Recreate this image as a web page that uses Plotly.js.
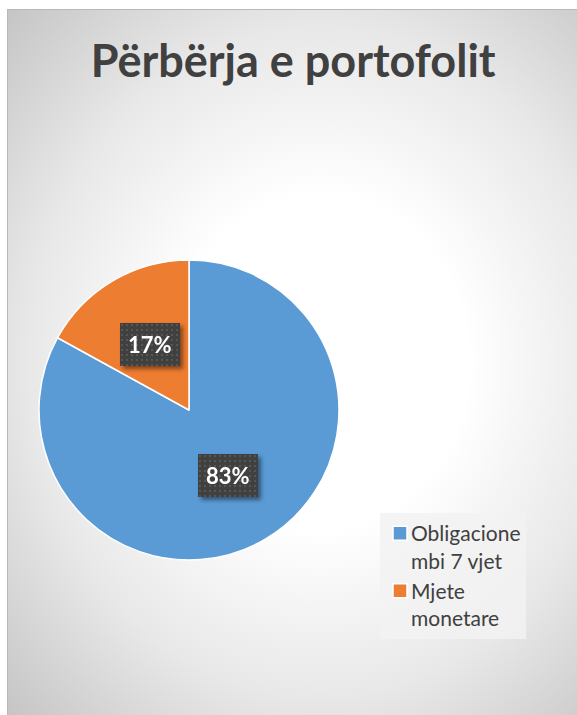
<!DOCTYPE html>
<html>
<head>
<meta charset="utf-8">
<script src="https://cdn.plot.ly/plotly-3.0.1.min.js"></script>
<style>
  html, body { margin: 0; padding: 0; background: #ffffff; width: 577px; height: 715px; overflow: hidden; }
  #bgbox {
    position: absolute; left: 7px; top: 9px; width: 570px; height: 706px;
    box-sizing: border-box;
    border-left: 1px solid #b8b8b8; border-top: 1px solid #b8b8b8;
    background: radial-gradient(ellipse 78% 72% at 55% 50%, #ffffff 0%, #ffffff 33%, #e8e8e8 66%, #c4c4c4 100%);
  }
  #chart { position: absolute; left: 0; top: 0; width: 577px; height: 715px; }
  .annotation { filter: drop-shadow(3px 3px 2px rgba(0,0,0,0.45)); }
</style>
</head>
<body>
<div id="bgbox"></div>
<div id="chart"></div>
<script>
// ---- data ----
var categories = ["Obligacione<br>mbi 7 vjet", "Mjete<br>monetare"];
var values = [83, 17];
var colors = ["#5B9BD5", "#ED7D31"];
var chartTitle = "Përbërja e portofolit";

// ---- layout constants ----
var W = 577, H = 715;
var domX = [39 / W, 339 / W];
var domY = [1 - 560 / H, 1 - 260 / H];
var radiusPx = Math.min((domX[1] - domX[0]) * W, (domY[1] - domY[0]) * H) / 2;
var labelFrac = 0.51;

var total = values.reduce(function (a, b) { return a + b; }, 0);
var cxP = (domX[0] + domX[1]) / 2, cyP = (domY[0] + domY[1]) / 2;
var annotations = [];
var cum = 0;
values.forEach(function (v) {
  var mid = (cum + v / 2) / total * 2 * Math.PI; // clockwise from 12 o'clock
  cum += v;
  annotations.push({
    xref: 'paper', yref: 'paper',
    x: cxP + labelFrac * radiusPx * Math.sin(mid) / W,
    y: cyP + labelFrac * radiusPx * Math.cos(mid) / H,
    xanchor: 'center', yanchor: 'middle',
    text: '<b>' + Math.round(v / total * 100) + '%</b>',
    showarrow: false,
    font: { family: 'Lato, "Open Sans", sans-serif', size: 22, color: '#ffffff' },
    bgcolor: '#404040',
    borderpad: 8,
    borderwidth: 0
  });
});

var trace = {
  type: 'pie',
  labels: categories,
  values: values,
  sort: false,
  direction: 'clockwise',
  rotation: 0,
  textinfo: 'none',
  hoverinfo: 'none',
  marker: { colors: colors, line: { color: '#ffffff', width: 1.5 } },
  domain: { x: domX, y: domY }
};

var layout = {
  width: W, height: H,
  margin: { l: 0, r: 0, t: 0, b: 0 },
  paper_bgcolor: 'rgba(0,0,0,0)',
  plot_bgcolor: 'rgba(0,0,0,0)',
  title: {
    text: '<b>' + chartTitle + '</b>',
    font: { family: 'Lato, "Open Sans", sans-serif', size: 45, color: '#404040' },
    x: 0.508, xanchor: 'center',
    y: 1 - 61 / H, yanchor: 'middle'
  },
  showlegend: true,
  legend: {
    x: 380 / W, y: 1 - 513 / H, xanchor: 'left', yanchor: 'top',
    bgcolor: 'rgba(242,242,242,0.85)',
    borderwidth: 0,
    valign: 'top',
    font: { family: 'Lato, "Open Sans", sans-serif', size: 21, color: '#404040' },
    tracegroupgap: 4,
    itemwidth: 30
  },
  annotations: annotations
};

Plotly.newPlot('chart', [trace], layout, { staticPlot: true, displayModeBar: false }).then(function () {
  var svg = document.querySelector('#chart .main-svg');
  var ns = 'http://www.w3.org/2000/svg';
  // dotted texture for data label boxes
  var defs = document.createElementNS(ns, 'defs');
  var pat = document.createElementNS(ns, 'pattern');
  pat.setAttribute('id', 'dotpat');
  pat.setAttribute('width', '5');
  pat.setAttribute('height', '5');
  pat.setAttribute('patternUnits', 'userSpaceOnUse');
  var r1 = document.createElementNS(ns, 'rect');
  r1.setAttribute('width', '5'); r1.setAttribute('height', '5'); r1.setAttribute('fill', '#404040');
  var r2 = document.createElementNS(ns, 'rect');
  r2.setAttribute('x', '1'); r2.setAttribute('y', '1');
  r2.setAttribute('width', '2'); r2.setAttribute('height', '2'); r2.setAttribute('fill', '#565656');
  pat.appendChild(r1); pat.appendChild(r2); defs.appendChild(pat);
  svg.insertBefore(defs, svg.firstChild);
  document.querySelectorAll('#chart .annotation rect.bg').forEach(function (r) {
    r.style.fill = 'url(#dotpat)';
  });
  // legend: larger square markers, text closer to marker
  document.querySelectorAll('#chart .legend .legendpoints path').forEach(function (p) {
    p.setAttribute('d', 'M7,7H-7V-7H7Z');
  });
  var shift = 9;
  document.querySelectorAll('#chart .legend text.legendtext').forEach(function (t) {
    var nx = 40 - shift;
    t.setAttribute('x', nx);
    t.querySelectorAll('tspan.line').forEach(function (s) { s.setAttribute('x', nx); });
  });
  var lbg = document.querySelector('#chart .legend rect.bg');
  if (lbg) {
    var w = parseFloat(lbg.getAttribute('width'));
    if (!isNaN(w)) lbg.setAttribute('width', w - shift);
  }
});
</script>
</body>
</html>
